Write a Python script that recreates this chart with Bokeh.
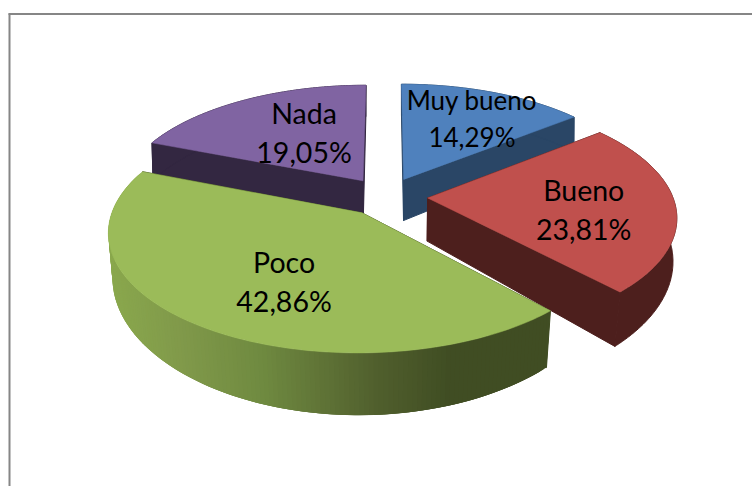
import numpy as np
from bokeh.plotting import figure
from bokeh.models import Range1d
from bokeh.core.properties import value
from bokeh.embed import file_html
from bokeh.resources import INLINE

categories = ["Muy bueno", "Bueno", "Poco", "Nada"]
values = [14.29, 23.81, 42.86, 19.05]
top_colors = ["#4f81bd", "#c0504d", "#9bbb59", "#8064a2"]
wall_colors = ["#2a4666", "#4d1f1d", "#404d23", "#332741"]
label_radius = [0.66, 0.63, 0.55, 0.42]
label_nudge_x = [6.5, 0.5, 7, -6]
label_nudge_y = [-1, 6, 11, -12]
label_sizes = ["26px", "28.5px", "28.5px", "28.5px"]
label_gaps = [18.5, 19.5, 19.5, 19.5]
green_stops_x = [107, 180, 260, 330, 376, 450, 552]
green_stops_c = ["#8aa84d", "#80994a", "#6f8a40", "#5d7035", "#505f2d", "#404d23", "#404d23"]

# projection of the tilted pie onto the page (page pixels)
X0, Y0, A, B, Q, D, E, K = 385.5, 196.0, 245.0, 114.0, 0.148, 43.0, 0.17, 0.09

def hex2rgb(h):
    return np.array([int(h[i:i + 2], 16) for i in (1, 3, 5)], float)

def green_at(x):
    rgb = [np.interp(x, green_stops_x, [hex2rgb(c)[i] for c in green_stops_c]) for i in range(3)]
    return "#%02x%02x%02x" % tuple(int(round(v)) for v in rgb)

def project(r, theta, mid):
    u = r * np.sin(theta) + E * np.sin(mid)
    v = r * np.cos(theta) + E * np.cos(mid)
    s = 1.0 / (1.0 + Q * v)
    tx = X0 + A * u * s
    ty = Y0 - B * v * s
    bx = X0 + A * u * s * (1 - K * (s - 0.88))
    by = ty + D * s * s
    return tx, ty, bx, by

W, H = 752, 486
p = figure(width=W, height=H, output_backend="svg", toolbar_location=None,
           x_range=Range1d(0, W), y_range=Range1d(H, 0),
           min_border=0, outline_line_color=None, background_fill_color="white",
           border_fill_color="white")
p.axis.visible = False
p.grid.visible = False

# frame of the chart area (open to the right and bottom, like the crop)
p.line([9, 9], [13, H], line_color="#868686", line_width=2)
p.line([8, W], [13.5, 13.5], line_color="#868686", line_width=2)

fractions = np.array(values) / sum(values)
edges = np.concatenate([[0], np.cumsum(fractions)]) * 2 * np.pi
mids = (edges[:-1] + edges[1:]) / 2
geom = []
for i in range(len(values)):
    th = np.linspace(edges[i], edges[i + 1], 160)
    tx, ty, bx, by = project(1.0, th, mids[i])
    ax, ay, abx, aby = project(0.0, 0.0, mids[i])
    geom.append((th, tx, ty, bx, by, ax, ay, abx, aby))

for i in [0, 3, 1, 2]:  # back to front
    th, tx, ty, bx, by, ax, ay, abx, aby = geom[i]
    wc = wall_colors[i]
    # radial cut faces
    for k in (0, -1):
        p.patch([ax, tx[k], bx[k], abx], [ay, ty[k], by[k], aby], fill_color=wc, line_color=wc, line_width=1)
    # outer curved face
    if categories[i] == "Poco":
        xs, ys, cs = [], [], []
        for j in range(0, len(th) - 3):
            xs.append([tx[j], tx[j + 3], bx[j + 3], bx[j]])
            ys.append([ty[j], ty[j + 3], by[j + 3], by[j]])
            cs.append(green_at((tx[j] + tx[j + 1]) / 2))
        p.patches(xs, ys, fill_color=cs, line_color=None)
    else:
        p.patch(list(tx) + list(bx[::-1]), list(ty) + list(by[::-1]), fill_color=wc, line_color=wc, line_width=1)
    # top face
    p.patch([ax] + list(tx), [ay] + list(ty), fill_color=top_colors[i], line_color=top_colors[i], line_width=0.5)

for i, cat in enumerate(categories):
    lx, ly, _, _ = project(label_radius[i], mids[i], mids[i])
    lx, ly = lx + label_nudge_x[i], ly + label_nudge_y[i]
    pct = ("%.2f" % values[i]).replace(".", ",") + "%"
    for txt, dy in ((cat, -label_gaps[i]), (pct, label_gaps[i])):
        p.text([lx], [ly + dy], text=[txt], text_font=value("Lato"), text_font_size=label_sizes[i],
               text_color="black", text_align="center", text_baseline="middle")

open("out.html", "w").write(file_html(p, INLINE))
